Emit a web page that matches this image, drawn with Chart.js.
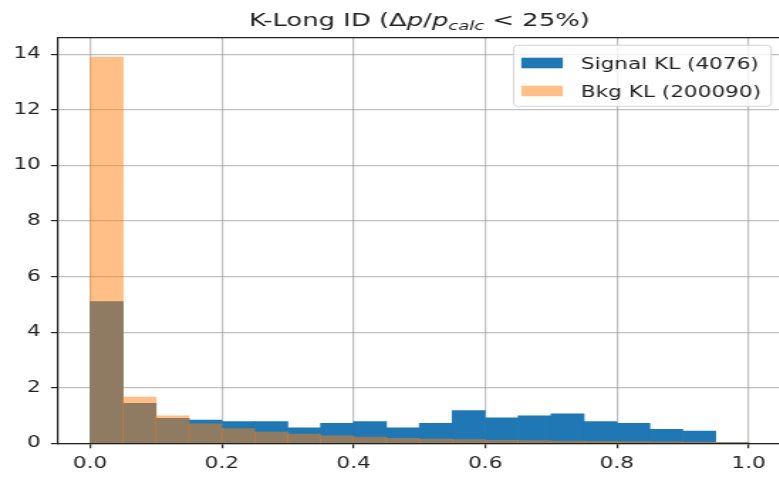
<!DOCTYPE html>
<html>
<head>
<meta charset="utf-8">
<script src="https://cdn.jsdelivr.net/npm/chart.js@4.4.1/dist/chart.umd.min.js"></script>
<style>
html,body{margin:0;padding:0;overflow:hidden;background:#ffffff;width:779px;height:479px;}
canvas{display:block;}
</style>
</head>
<body>
<canvas id="c" width="556" height="479" style="width:789.52px;height:479px"></canvas>
<script>
// ---- data ----
const binCenters = [0.025, 0.075, 0.125, 0.175, 0.225, 0.275, 0.325, 0.375, 0.425, 0.475,
                    0.525, 0.575, 0.625, 0.675, 0.725, 0.775, 0.825, 0.875, 0.925, 0.975];
const signalValues = [5.10, 1.44, 0.90, 0.84, 0.78, 0.78, 0.56, 0.72, 0.78, 0.56,
                      0.72, 1.18, 0.92, 0.99, 1.06, 0.78, 0.72, 0.50, 0.44, 0.02];
const bkgValues = [13.90, 1.66, 0.99, 0.70, 0.53, 0.40, 0.33, 0.27, 0.22, 0.18,
                   0.15, 0.13, 0.11, 0.10, 0.08, 0.07, 0.06, 0.05, 0.04, 0.03];
const seriesLabels = ['Signal KL (4076)', 'Bkg KL (200090)'];
const xTickValues = [0.0, 0.2, 0.4, 0.6, 0.8, 1.0];
const yTickValues = [0, 2, 4, 6, 8, 10, 12, 14];
const titleParts = [
  {t: 'K-Long ID (', it: false},
  {t: 'Δ', it: false},
  {t: 'p', it: true},
  {t: '/', it: false},
  {t: 'p', it: true},
  {t: 'calc', it: true, sub: true},
  {t: ' < ', it: false},
  {t: '25%)', it: false}
];

// ---- layout (internal canvas px; canvas is stretched horizontally by S) ----
const S = 789.52 / 556;
const sx = v => v / S;
const W = 556;
const AREA = {left: sx(57.2), right: sx(781), top: 37.7, bottom: 443.3};
const FONT = '"DejaVu Sans", "Liberation Sans", sans-serif';
const TICK_FS = 15.2;
const GRID = 'rgba(150,150,150,0.6)';
const AXIS = '#222222';
const BLUE = '#1f77b4';
const ORANGE_A = 'rgba(255,127,14,0.5)';

const extras = {
  id: 'extras',
  afterDraw(chart) {
    const ctx = chart.ctx;
    const ca = chart.chartArea;
    ctx.save();
    // top spine
    ctx.strokeStyle = AXIS;
    ctx.lineWidth = 1.2;
    ctx.beginPath();
    ctx.moveTo(ca.left, ca.top);
    ctx.lineTo(ca.right, ca.top);
    ctx.stroke();

    // title with math-like parts
    const fs = 18.2;
    const subFs = fs * 0.7;
    const fontFor = p => (p.it ? 'italic ' : '') + (p.sub ? subFs : fs) + 'px ' + FONT;
    let total = 0;
    const widths = titleParts.map(p => { ctx.font = fontFor(p); const w = ctx.measureText(p.t).width; total += w; return w; });
    let x = (ca.left + ca.right) / 2 - total / 2;
    const base = 26.4;
    ctx.fillStyle = '#222222';
    ctx.textBaseline = 'alphabetic';
    ctx.textAlign = 'left';
    titleParts.forEach((p, i) => {
      ctx.font = fontFor(p);
      ctx.fillText(p.t, x, p.sub ? base + 3.6 : base);
      x += widths[i];
    });

    // legend
    const lx0 = sx(513.3), lx1 = sx(770.7), ly0 = 45.2, ly1 = 106.3;
    ctx.beginPath();
    ctx.roundRect(lx0, ly0, lx1 - lx0, ly1 - ly0, 2.8);
    ctx.fillStyle = 'rgba(255,255,255,0.8)';
    ctx.fill();
    ctx.strokeStyle = 'rgba(204,204,204,0.8)';
    ctx.lineWidth = 1;
    ctx.stroke();
    const hx0 = sx(521), hx1 = sx(562.5);
    const rows = [
      {label: seriesLabels[0], color: BLUE, cy: 63, base: 68.9},
      {label: seriesLabels[1], color: '#ffbf86', cy: 91, base: 97.1}
    ];
    ctx.font = TICK_FS + 'px ' + FONT;
    rows.forEach(r => {
      ctx.fillStyle = r.color;
      ctx.fillRect(hx0, r.cy - 5.3, hx1 - hx0, 10.6);
      ctx.fillStyle = '#222222';
      ctx.fillText(r.label, sx(580.5), r.base);
    });
    ctx.restore();
  }
};

const mk = (vals) => binCenters.map((x, i) => ({x: x, y: vals[i]}));

new Chart(document.getElementById('c'), {
  type: 'bar',
  data: {
    datasets: [
      {label: seriesLabels[0], data: mk(signalValues), backgroundColor: BLUE, borderWidth: 0,
       order: 2, grouped: false, barPercentage: 1, categoryPercentage: 1},
      {label: seriesLabels[1], data: mk(bkgValues), backgroundColor: ORANGE_A, borderWidth: 0,
       order: 1, grouped: false, barPercentage: 1, categoryPercentage: 1}
    ]
  },
  options: {
    responsive: false,
    animation: false,
    devicePixelRatio: 1,
    layout: {padding: {left: 0, top: AREA.top, right: W - AREA.right, bottom: 0}},
    plugins: {legend: {display: false}, title: {display: false}, tooltip: {enabled: false}},
    scales: {
      x: {
        type: 'linear', min: -0.05, max: 1.05, offset: false, z: 1,
        grid: {offset: false, color: GRID, lineWidth: 1.2, tickColor: AXIS, tickLength: 5, tickWidth: 1.2},
        border: {color: AXIS, width: 1.2},
        ticks: {color: '#222222', font: {family: FONT, size: TICK_FS}, padding: 7, maxRotation: 0, autoSkip: false,
                callback: v => Number(v).toFixed(1)},
        afterBuildTicks: s => { s.ticks = xTickValues.map(v => ({value: v})); },
        afterFit: s => { s.height = 479 - AREA.bottom; }
      },
      y: {
        type: 'linear', min: 0, max: 14.6, z: 1,
        grid: {color: GRID, lineWidth: 1.2, tickColor: AXIS, tickLength: 4.5, tickWidth: 1.2},
        border: {color: AXIS, width: 1.2},
        ticks: {color: '#222222', font: {family: FONT, size: TICK_FS}, padding: 7, autoSkip: false,
                callback: v => String(v)},
        afterBuildTicks: s => { s.ticks = yTickValues.map(v => ({value: v})); },
        afterFit: s => { s.width = AREA.left; }
      }
    }
  },
  plugins: [extras]
});
</script>
</body>
</html>
